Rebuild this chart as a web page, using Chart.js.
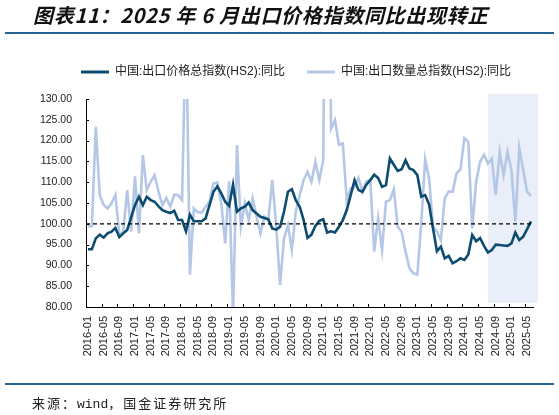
<!DOCTYPE html>
<html>
<head>
<meta charset="utf-8">
<script src="https://cdn.jsdelivr.net/npm/chart.js@4.4.1/dist/chart.umd.min.js"></script>
<style>
  body { margin: 0; background: #fff; }
  #wrap { position: relative; width: 559px; height: 415px; overflow: hidden; }
  #chart-box { position: absolute; left: 0; top: 0; width: 559px; height: 415px; }
  .title { position: absolute; left: 33px; top: 4px; font: italic bold 20px "Noto Sans CJK SC", sans-serif; letter-spacing: 0.7px; color: #111; white-space: nowrap; line-height: 22px; }
  .rule { position: absolute; left: 5px; width: 549px; height: 2px; background: #2a6490; }
  .source { position: absolute; left: 32px; top: 394px; font: 13px "Noto Sans CJK SC", sans-serif; letter-spacing: 2px; color: #222; white-space: nowrap; line-height: 18px; }
  .source span { font-family: "Liberation Mono", monospace; letter-spacing: 0; }
</style>
</head>
<body>
<div id="wrap">
  <div id="chart-box"><canvas id="exportChart"></canvas></div>
  <div class="title">图表11：2025 年 6 月出口价格指数同比出现转正</div>
  <div class="rule" style="top:32px"></div>
  <div class="rule" style="top:383px"></div>
  <div class="source">来源：<span>wind</span>，国金证券研究所</div>
</div>
<script>
// months 2016-01 .. 2025-06
const months = [];
for (let y = 2016; y <= 2025; y++) {
  for (let m = 1; m <= 12; m++) {
    if (y === 2025 && m > 6) break;
    months.push(y + '-' + String(m).padStart(2, '0'));
  }
}

// 中国:出口价格总指数(HS2):同比
const priceYoY = [
  93.9, 93.9, 96.5, 97.4, 96.7, 97.7, 98.1, 99.0, 96.8, 97.7, 98.5, 101.5,
  104.5, 106.5, 104.5, 106.5, 105.7, 105.3, 104.2, 103.3, 102.9, 102.6, 103.1, 100.9,
  100.9, 98.2, 102.2, 100.6, 100.6, 100.6, 101.3, 104.5, 107.7, 109.0, 107.3, 105.3,
  104.3, 109.4, 102.9, 103.7, 104.1, 105.1, 103.3, 102.5, 101.7, 101.4, 101.1, 98.9,
  98.6, 99.3, 102.9, 107.7, 108.3, 105.7, 104.1, 100.9, 96.6, 97.4, 99.5, 100.7,
  101.1, 97.9, 98.2, 97.9, 99.3, 100.9, 103.3, 106.9, 110.5, 108.1, 107.7, 109.4,
  110.5, 111.8, 111.0, 108.9, 109.3, 115.7, 114.2, 112.7, 113.1, 115.3, 113.3, 112.9,
  111.7, 106.5, 106.9, 104.7, 98.9, 93.4, 94.5, 91.7, 92.3, 90.5, 91.0, 91.7,
  91.3, 92.6, 97.3, 95.8, 96.6, 94.7, 93.1, 93.7, 95.0, 94.9, 94.8, 94.7,
  95.3, 97.9, 96.1, 96.9, 98.7, 100.6
];

// 中国:出口数量总指数(HS2):同比
const volumeYoY = [
  99.4, 99.4, 123.3, 106.9, 104.5, 103.7, 104.9, 106.9, 97.4, 98.1, 108.1, 98.1,
  111.4, 97.7, 116.5, 108.1, 110.1, 111.7, 107.7, 104.5, 106.2, 104.1, 107.0, 106.9,
  105.7, 150.0, 87.8, 103.7, 102.8, 102.7, 104.1, 105.3, 109.7, 109.9, 104.9, 95.3,
  110.2, 78.0, 118.9, 99.3, 104.9, 100.9, 106.1, 101.7, 97.7, 101.7, 100.9, 110.5,
  99.7, 85.3, 96.5, 99.7, 93.7, 102.9, 106.9, 110.5, 112.5, 110.1, 114.9, 110.5,
  115.3, 220.0, 122.9, 124.9, 119.0, 119.3, 105.7, 108.5, 108.9, 111.0, 107.7, 110.2,
  110.5, 93.3, 101.4, 93.7, 105.3, 105.7, 108.3, 99.3, 98.1, 93.3, 89.3, 88.1,
  87.8, 100.1, 115.5, 110.9, 99.3, 98.1, 96.1, 106.1, 107.8, 107.7, 112.1, 113.1,
  120.6, 119.7, 98.9, 110.1, 114.9, 116.6, 114.5, 115.7, 106.9, 117.3, 111.7, 117.3,
  112.9, 100.5, 118.2, 112.9, 107.7, 106.7
];

const yMin = 80, yMax = 130, yStep = 5;
const baseline = 100;

const legendSpace = {
  id: 'legendSpace',
  beforeInit(chart) {
    if (!chart.legend) return;
    const fit = chart.legend.fit;
    chart.legend.fit = function () {
      fit.call(this);
      this.height = 55;
    };
  }
};

const extras = {
  id: 'extras',
  beforeDatasetsDraw(chart) {
    const { ctx, scales: { x, y } } = chart;
    const left = x.getPixelForValue(102);
    const right = x.getPixelForValue(114.8);
    const top = y.getPixelForValue(131.2);
    const bottom = y.getPixelForValue(81);
    ctx.save();
    ctx.fillStyle = '#e9eef8';
    ctx.fillRect(left, top, right - left, bottom - top);
    ctx.restore();
  },
  afterDatasetsDraw(chart) {
    const { ctx, chartArea, scales: { x, y } } = chart;
    ctx.save();
    // 100 reference line
    ctx.strokeStyle = '#000';
    ctx.lineWidth = 1.3;
    ctx.setLineDash([4, 3]);
    const yb = y.getPixelForValue(baseline);
    ctx.beginPath();
    ctx.moveTo(chartArea.left, yb);
    ctx.lineTo(chartArea.right, yb);
    ctx.stroke();
    // inner tick marks
    ctx.setLineDash([]);
    ctx.lineWidth = 1;
    ctx.beginPath();
    for (let v = yMin; v <= yMax; v += yStep) {
      const py = Math.round(y.getPixelForValue(v)) + 0.5;
      ctx.moveTo(chartArea.left, py);
      ctx.lineTo(chartArea.left + 3, py);
    }
    for (let i = 4; i < months.length; i += 4) {
      const px = Math.round(x.getPixelForValue(i - 0.5)) + 0.5;
      ctx.moveTo(px, chartArea.bottom);
      ctx.lineTo(px, chartArea.bottom - 3);
    }
    ctx.stroke();
    ctx.restore();
  }
};

new Chart(document.getElementById('exportChart'), {
  type: 'line',
  data: {
    labels: months,
    datasets: [
      {
        label: '中国:出口价格总指数(HS2):同比',
        data: priceYoY,
        borderColor: '#0d4c6e',
        backgroundColor: '#0d4c6e',
        borderWidth: 2.6,
        pointRadius: 0,
        tension: 0
      },
      {
        label: '中国:出口数量总指数(HS2):同比',
        data: volumeYoY,
        borderColor: '#b4c7e7',
        backgroundColor: '#b4c7e7',
        borderWidth: 2.6,
        pointRadius: 0,
        tension: 0
      }
    ]
  },
  options: {
    responsive: true,
    maintainAspectRatio: false,
    animation: false,
    layout: { padding: { left: 0, right: 26, top: 44, bottom: 48 } },
    plugins: {
      legend: {
        position: 'top',
        align: 'end',
        labels: {
          boxWidth: 28,
          boxHeight: 3,
          padding: 22,
          color: '#222',
          font: { size: 12, family: '"Liberation Sans", "Noto Sans CJK SC"' },
          generateLabels: chart =>
            Chart.defaults.plugins.legend.labels.generateLabels(chart)
              .map(item => Object.assign(item, { lineWidth: 0 }))
        }
      },
      tooltip: { enabled: false }
    },
    scales: {
      x: {
        type: 'category',
        offset: true,
        grid: { display: false, drawTicks: false },
        border: { display: true, color: '#000', width: 1 },
        ticks: {
          autoSkip: false,
          minRotation: 90,
          maxRotation: 90,
          padding: 9,
          color: '#222',
          font: { size: 11, family: '"Liberation Sans"' },
          callback: (v, i) => (i % 4 === 0 ? months[i] : '')
        },
        afterFit: s => { s.height = 60; }
      },
      y: {
        min: yMin,
        max: yMax,
        grid: { display: false, drawTicks: false },
        border: { display: true, color: '#000', width: 1 },
        ticks: {
          stepSize: yStep,
          padding: 14,
          color: '#222',
          font: { size: 10.5, family: '"Liberation Sans"' },
          callback: v => v.toFixed(2)
        },
        afterFit: s => { s.width = 86; }
      }
    }
  },
  plugins: [legendSpace, extras]
});
</script>
</body>
</html>
